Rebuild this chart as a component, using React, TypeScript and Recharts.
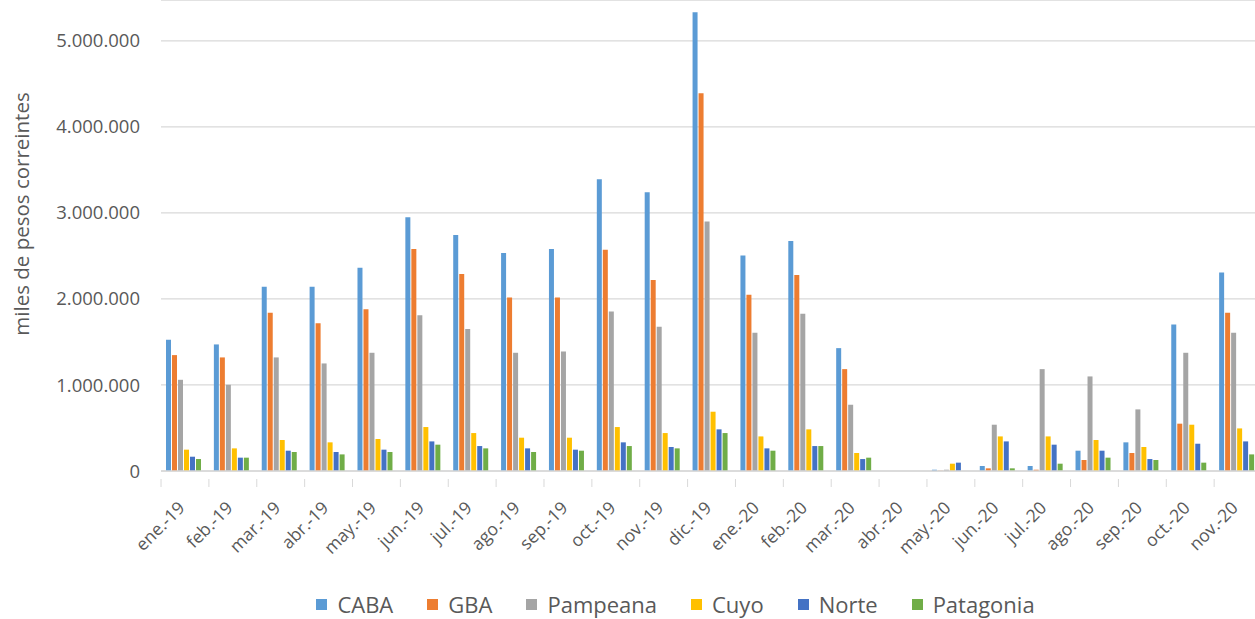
import React from "react";
import { BarChart, Bar, XAxis, YAxis, CartesianGrid, Legend } from "recharts";

const months = [
  "ene.-19", "feb.-19", "mar.-19", "abr.-19", "may.-19", "jun.-19", "jul.-19", "ago.-19",
  "sep.-19", "oct.-19", "nov.-19", "dic.-19", "ene.-20", "feb.-20", "mar.-20", "abr.-20",
  "may.-20", "jun.-20", "jul.-20", "ago.-20", "sep.-20", "oct.-20", "nov.-20",
];

// miles de pesos corrientes
const caba = [1525000, 1471000, 2140000, 2140000, 2361000, 2949000, 2744000, 2535000, 2581000, 3390000, 3239000, 5333000, 2504000, 2674000, 1428000, 0, 15000, 58000, 58000, 236000, 333000, 1703000, 2306000];
const gba = [1347000, 1320000, 1838000, 1718000, 1881000, 2581000, 2291000, 2016000, 2016000, 2570000, 2221000, 4389000, 2047000, 2279000, 1184000, 0, 3000, 31000, 15000, 128000, 209000, 550000, 1838000];
const pampeana = [1060000, 1002000, 1320000, 1250000, 1374000, 1811000, 1649000, 1374000, 1389000, 1854000, 1676000, 2899000, 1606000, 1827000, 770000, 0, 15000, 538000, 1184000, 1099000, 716000, 1374000, 1606000];
const cuyo = [248000, 263000, 360000, 333000, 372000, 511000, 441000, 387000, 387000, 511000, 441000, 689000, 402000, 484000, 209000, 0, 85000, 402000, 402000, 360000, 279000, 538000, 495000];
const norte = [166000, 155000, 236000, 221000, 248000, 344000, 290000, 263000, 248000, 333000, 279000, 484000, 263000, 290000, 139000, 0, 97000, 344000, 306000, 236000, 139000, 317000, 344000];
const patagonia = [139000, 155000, 221000, 193000, 221000, 306000, 263000, 221000, 236000, 290000, 263000, 441000, 236000, 290000, 155000, 0, 0, 31000, 85000, 155000, 128000, 97000, 193000];

const yTicks = [0, 1000000, 2000000, 3000000, 4000000, 5000000];

const series = [
  { key: "CABA", color: "#5B9BD5" },
  { key: "GBA", color: "#ED7D31" },
  { key: "Pampeana", color: "#A5A5A5" },
  { key: "Cuyo", color: "#FFC000" },
  { key: "Norte", color: "#4472C4" },
  { key: "Patagonia", color: "#70AD47" },
];

const data = months.map((m, i) => ({
  month: m,
  CABA: caba[i],
  GBA: gba[i],
  Pampeana: pampeana[i],
  Cuyo: cuyo[i],
  Norte: norte[i],
  Patagonia: patagonia[i],
}));

const FONT = "'Open Sans', Lato, sans-serif";
const TEXT = "#595959";
const GRID = "#D9D9D9";
const PLOT_LEFT = 161;
const BAND = 47.8;

const fmtY = (v: number) => (v === 0 ? "0" : v.toLocaleString("de-DE"));

function MonthTick(props: any) {
  const { x, y, payload } = props;
  const left = x - BAND / 2;
  const tx = x + 1;
  const ty = y + 30;
  return (
    <g>
      <line x1={left} y1={y} x2={left} y2={y + 8} stroke={GRID} />
      <text
        x={tx}
        y={ty}
        textAnchor="end"
        fill={TEXT}
        fontSize={17.5}
        fontFamily={FONT}
        transform={`rotate(-45 ${tx} ${ty})`}
      >
        {payload.value}
      </text>
    </g>
  );
}

function YTitle() {
  return (
    <text
      x={21}
      y={214}
      textAnchor="middle"
      dominantBaseline="central"
      fill={TEXT}
      fontSize={20.5}
      fontFamily={FONT}
      transform="rotate(-90 21 214)"
    >
      miles de pesos correintes
    </text>
  );
}

function LegendBox() {
  return (
    <div
      style={{
        display: "flex",
        justifyContent: "center",
        alignItems: "center",
        gap: 34,
        height: 30,
        fontFamily: FONT,
        fontSize: 22,
        color: TEXT,
      }}
    >
      {series.map((s) => (
        <div key={s.key} style={{ display: "flex", alignItems: "center", gap: 10 }}>
          <span style={{ width: 11, height: 11, background: s.color, display: "inline-block" }} />
          <span>{s.key}</span>
        </div>
      ))}
    </div>
  );
}

export default function App() {
  return (
    <div style={{ position: "absolute", left: 0, top: 0, width: 1255, height: 619, overflow: "hidden", background: "#fff" }}>
      <BarChart
        width={1262}
        height={619}
        data={data}
        margin={{ top: 0, right: 0, bottom: 0, left: 0 }}
        barCategoryGap={5}
        barGap={1}
      >
        <CartesianGrid vertical={false} stroke={GRID} strokeWidth={1.3} />
        <XAxis
          dataKey="month"
          interval={0}
          height={118}
          tickLine={false}
          axisLine={{ stroke: GRID, strokeWidth: 1.3 }}
          tick={<MonthTick />}
        />
        <YAxis
          width={PLOT_LEFT}
          domain={[0, 5474000]}
          ticks={yTicks}
          allowDataOverflow
          tickFormatter={fmtY}
          axisLine={false}
          tickLine={false}
          tickSize={0}
          tickMargin={21}
          tick={{ fontSize: 18.5, fill: TEXT, fontFamily: FONT }}
          label={<YTitle />}
        />
        <Legend
          verticalAlign="bottom"
          content={<LegendBox />}
          wrapperStyle={{ left: 0, bottom: 0, width: 1351, height: 30 }}
        />
        {series.map((s) => (
          <Bar key={s.key} dataKey={s.key} fill={s.color} isAnimationActive={false} />
        ))}
      </BarChart>
    </div>
  );
}
